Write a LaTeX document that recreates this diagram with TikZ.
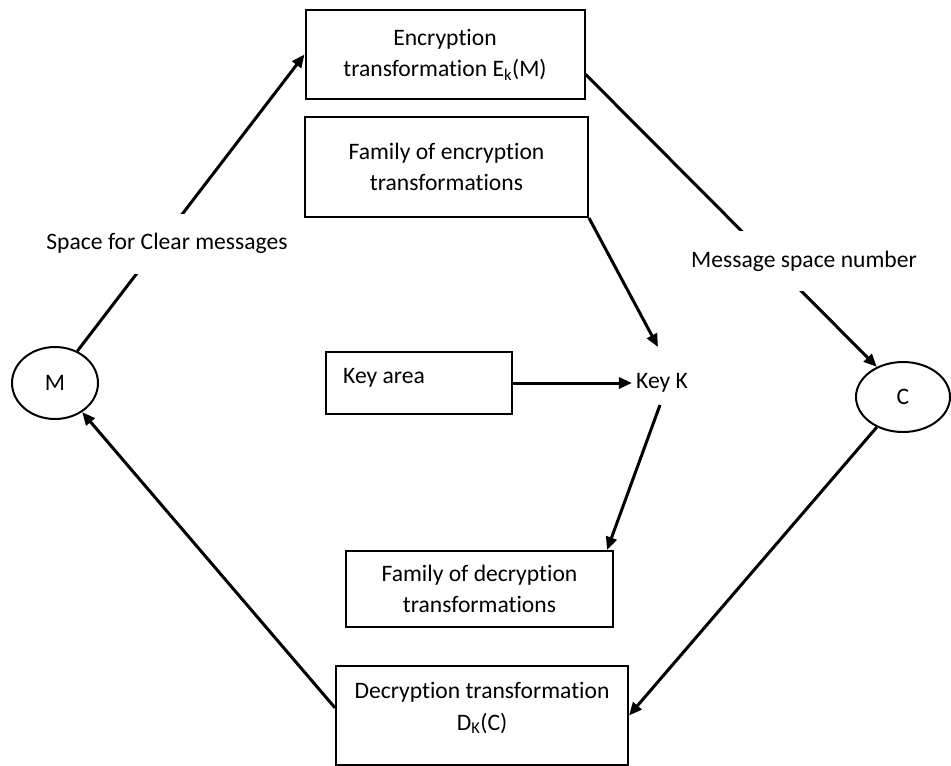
\documentclass[tikz,border=0pt]{standalone}
\usepackage{fontspec}
\setmainfont{Carlito}[Ligatures={NoCommon}]
\usetikzlibrary{arrows.meta,shapes.geometric,calc}
\begin{document}
\begin{tikzpicture}[x=1pt,y=-1pt,
  font=\fontsize{23.6}{31.5}\selectfont,
  box/.style={draw=black,line width=2pt,rectangle,align=center,inner sep=0pt},
  oval/.style={draw=black,line width=2pt,ellipse,inner sep=0pt},
  txt/.style={inner sep=4pt},
  lbl/.style={fill=white,inner xsep=4pt,minimum height=60pt},
  conn/.style={line width=3pt,-{Triangle[length=13pt,width=11pt]}}]
\useasboundingbox (0,0) rectangle (951,766);
% boxes
\node[box,minimum width=279pt,minimum height=89pt] (enc) at (445,54.5)
  {Encryption\\transformation E\textsubscript{k}(M)};
\node[box,minimum width=283pt,minimum height=100pt] (fenc) at (446.5,167)
  {Family of encryption\\transformations};
\node[oval,minimum width=86pt,minimum height=72pt] (M) at (55,383) {M};
\node[oval,minimum width=94pt,minimum height=70pt] (C) at (903,397) {C};
\node[box,minimum width=186pt,minimum height=62pt] (keyarea) at (419,383) {};
\node[txt,anchor=base west] (keyareatxt) at (339,383) {Key area};
\node[txt] (keyK) at (662,383) {Key K};
\coordinate (kin) at (658,347);
\coordinate (kout) at (660,405);
\node[box,minimum width=267pt,minimum height=76pt] (fdec) at (479.5,589)
  {Family of decryption\\transformations};
\node[box,minimum width=292pt,minimum height=99pt] (dec) at (482,715.5) {};
\node[txt,align=center] (dectxt) at (482,708)
  {Decryption transformation\\D\textsubscript{K}(C)};
% connectors
\draw[conn] (M.55) -- (enc.west);
\draw[conn] (enc.-8.4) -- (C.131);
\draw[conn] (fenc.south east) -- (kin);
\draw[conn] (keyarea.east) -- (keyarea.east -| keyK.west);
\draw[conn] (kout) -- (fdec.17);
\draw[conn] (C.229) -- (dec.east);
\draw[conn] (dec.177) -- (M.-47);
% labels over lines
\node[lbl] (spacelbl) at (167,243.5) {Space for Clear messages};
\node[lbl] (msglbl) at (804,261) {Message space number};
\end{tikzpicture}
\end{document}
